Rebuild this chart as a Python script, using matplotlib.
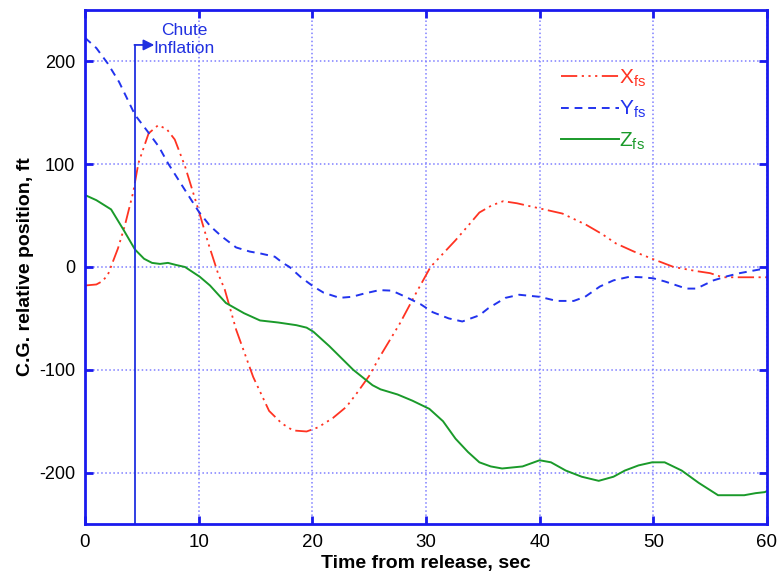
import matplotlib
matplotlib.use("Agg")
import matplotlib.pyplot as plt

plt.rcParams['font.family'] = ['Liberation Sans', 'DejaVu Sans']
plt.rcParams['mathtext.fontset'] = 'custom'
plt.rcParams['mathtext.rm'] = 'Liberation Sans'
plt.rcParams['mathtext.it'] = 'Liberation Sans'
plt.rcParams['axes.unicode_minus'] = False

# C.G. position relative to release point, ft
t_x = [0, 1, 1.5, 2, 2.9, 3.5, 4.25, 4.7, 5.6, 6.45, 7.2, 7.9, 8.8, 10, 10.85, 11.7,
       12.3, 13.3, 14.8, 16.2, 17.3, 18.3, 19.5, 20.5, 21.8, 23, 23.9, 25, 25.9, 27.7,
       29.1, 30.4, 31.5, 32.6, 33.7, 34.7, 35.8, 36.8, 38, 40, 42, 44.1, 45.5, 46.7,
       48.3, 49.9, 51.8, 53.8, 55, 56.1, 57.5, 59.3, 60]
x_fs = [-18, -17, -14, -8, 18, 40, 73, 101, 130, 138, 134, 124, 98, 55, 23, -6,
        -22, -61, -107, -140, -152, -159, -160, -156, -147, -136, -123, -106, -88, -55,
        -26, 0, 13, 26, 40, 53, 60, 64, 62, 57, 52, 41, 32, 23,
        15, 8, 0, -4, -6, -10, -10, -10, -10]

t_y = [0, 1, 2, 3, 4.4, 5.5, 6.5, 7.3, 8.5, 10, 11, 12, 13.3, 14.5, 15.5, 16.7, 17.4,
       18, 19, 20.1, 21, 22.4, 23.5, 24.5, 25.9, 27, 28.2, 29.5, 30.6, 32, 33.2, 34.7,
       35.5, 37, 38.2, 40, 41.5, 43, 44, 45.3, 46.5, 47.9, 49, 50, 51, 52.9, 53.8,
       55.3, 56.5, 57.6, 59.3, 60]
y_fs = [223, 213, 198, 180, 148, 132, 117, 101, 80, 54, 40, 30, 19, 15, 13, 10, 4,
        0, -10, -19, -25, -30, -29, -26, -22.5, -23, -29, -36, -44, -50, -53, -47,
        -40, -30, -27, -29, -33, -33, -29, -19, -13, -9.5, -10, -11, -14, -21, -21,
        -13, -9, -6, -2.5, -2]

t_z = [0, 1, 2.3, 3.4, 4.4, 5.2, 5.9, 6.6, 7.3, 8, 8.8, 10.1, 11, 12.4, 14, 15.4, 17,
       18.6, 19.5, 20.1, 21.5, 23.6, 25.3, 26, 27.5, 28.8, 30.3, 31.5, 32.6, 33.7,
       34.7, 35.7, 36.7, 38.5, 40, 41, 42.3, 43.7, 45.2, 46.5, 47.5, 48.7, 49.9, 51,
       52.5, 54, 55.7, 57, 58, 59, 59.8, 60]
z_fs = [70, 65, 56, 36, 17, 8, 4, 3, 4, 2, 0, -9.5, -18, -35, -45, -52, -54,
        -56.6, -59, -63, -77, -100, -115, -119, -124, -130, -138, -150, -167, -180,
        -190, -194, -196, -194, -188, -190, -198, -204, -208, -204, -198, -193, -190, -190,
        -198, -210, -222, -222, -222, -220, -219, -218]

t_chute = 4.4

blue = '#1a1aee'
fig = plt.figure(figsize=(7.81, 5.74), dpi=100)
ax = fig.add_axes([0.1088, 0.0871, 0.8732, 0.8955])

ax.plot(t_x, x_fs, color='#ff3322', lw=1.3, ls=(0, (9, 2.5, 1.2, 2.5, 1.2, 2.5, 1.2, 2.5)),
        label='X$_{fs}$')
ax.plot(t_y, y_fs, color='#2233ee', lw=1.4, ls=(0, (4, 3)), label='Y$_{fs}$')
ax.plot(t_z, z_fs, color='#1a9a2a', lw=1.4, label='Z$_{fs}$')

# chute inflation marker
ax.plot([t_chute, t_chute], [-250, 216], color='#2030e0', lw=1.3)
ax.annotate('', xy=(6.1, 216), xytext=(t_chute - 0.05, 216),
            arrowprops=dict(arrowstyle='-|>', color='#2030e0', lw=1.3,
                            mutation_scale=16, shrinkA=0, shrinkB=0))
ax.text(8.7, 221, 'Chute\nInflation', color='#2030e0', fontsize=12.5,
        ha='center', va='center', linespacing=1.25)

ax.set_xlim(0, 60)
ax.set_ylim(-250, 250)
ax.set_xticks(range(0, 61, 10))
ax.set_yticks([-200, -100, 0, 100, 200])
ax.grid(True, color='#7f7fff', ls=':', lw=1.1)
for s in ax.spines.values():
    s.set_color(blue)
    s.set_linewidth(2)
ax.tick_params(direction='in', color=blue, width=2, length=6, top=True, right=True,
               labelsize=13, pad=7)
ax.tick_params(axis='x', labelsize=13.5)

ax.set_xlabel('Time from release, sec', fontsize=14, fontweight='bold', labelpad=3)
ax.set_ylabel('C.G. relative position, ft', fontsize=14, fontweight='bold', labelpad=4)

leg = ax.legend(loc='upper left', bbox_to_anchor=(0.67, 0.925), frameon=False,
                fontsize=15, handlelength=2.8, handletextpad=0.0, labelspacing=0.5,
                labelcolor='linecolor')

fig.savefig('out.png', dpi=100)
